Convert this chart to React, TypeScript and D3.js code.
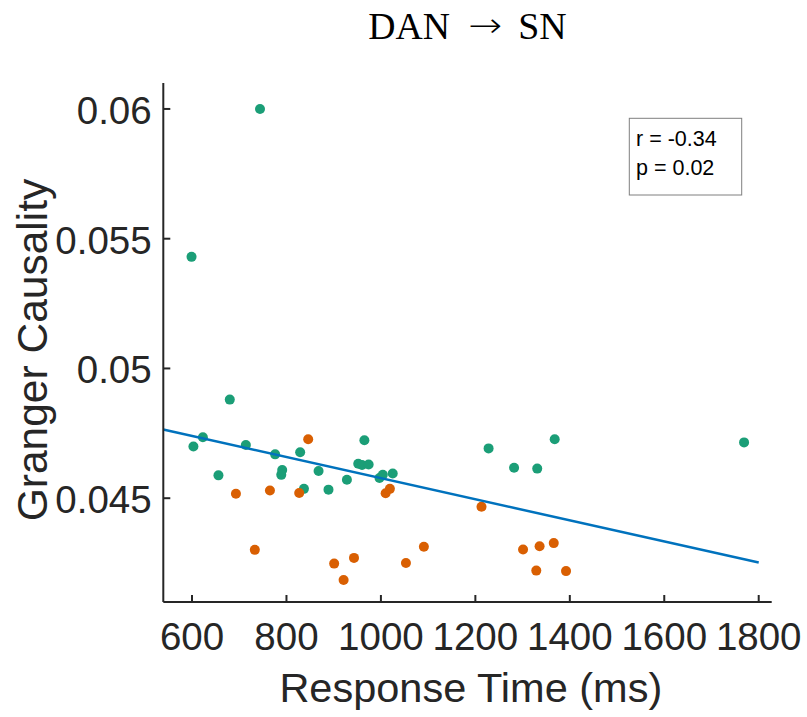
import React from "react";
import * as d3 from "d3";

// Response time (ms) and Granger causality, group 1 (green)
const greenRT = [744, 599, 680, 603, 623, 656, 714, 776, 791, 789, 829, 837, 868, 889, 928, 965, 952, 960, 974, 997, 1004, 1025, 1228, 1282, 1331, 1368, 1769];
const greenGC = [0.06, 0.0543, 0.0488, 0.04699, 0.04735, 0.04588, 0.04705, 0.04669, 0.04609, 0.0459, 0.04677, 0.04536, 0.04605, 0.04533, 0.04571, 0.04723, 0.04633, 0.04628, 0.0463, 0.04578, 0.0459, 0.04595, 0.04692, 0.04617, 0.04614, 0.04727, 0.04715];
// group 2 (orange)
const orangeRT = [693, 765, 827, 846, 733, 901, 943, 921, 1010, 1019, 1053, 1091, 1213, 1301, 1336, 1366, 1329, 1392];
const orangeGC = [0.04517, 0.0453, 0.0452, 0.04727, 0.04301, 0.04248, 0.0427, 0.04185, 0.04519, 0.04536, 0.0425, 0.04313, 0.04467, 0.04302, 0.04315, 0.04327, 0.04221, 0.04219];

// regression line endpoints
const fitRT = [539, 1800];
const fitGC = [0.047645, 0.042521];

const xTicks = [600, 800, 1000, 1200, 1400, 1600, 1800];
const yTicks = [0.045, 0.05, 0.055, 0.06];
const yTickLabels = ["0.045", "0.05", "0.055", "0.06"];

const statLines = ["r = -0.34", "p = 0.02"];
const titleParts = ["DAN", "\u2192", "SN"];
const xLabel = "Response Time (ms)";
const yLabel = "Granger Causality";

export default function App() {
  const W = 807, H = 717;
  const left = 163.3, right = 771.7, top = 83, bottom = 602;
  const x = d3.scaleLinear().domain([539.2, 1827.5]).range([left, right]);
  const y = d3.scaleLinear().domain([0.041, 0.061]).range([bottom, top]);
  const axisColor = "#262626";
  const font = "'Liberation Sans', Arial, Helvetica, sans-serif";
  const serif = "'Liberation Serif', 'DejaVu Serif', serif";
  const line = d3.line<number>().x((_, i) => x(fitRT[i])).y((v) => y(v));

  return (
    <svg width={W} height={H} style={{ position: "absolute", left: 0, top: 0, background: "#fff" }}>
      <rect x={0} y={0} width={W} height={H} fill="#fff" />
      {/* title */}
      <text x={368.3} y={39} fontFamily={serif} fontSize={37} textLength={81.7} lengthAdjust="spacingAndGlyphs" fill="#000">{titleParts[0]}</text>
      <text x={468.3} y={37} fontFamily="'DejaVu Sans ExtraLight', 'DejaVu Sans', sans-serif" fontWeight={200} fontSize={34} textLength={34} lengthAdjust="spacingAndGlyphs" fill="#000">{titleParts[1]}</text>
      <text x={518.3} y={39} fontFamily={serif} fontSize={37} textLength={48.4} lengthAdjust="spacingAndGlyphs" fill="#000">{titleParts[2]}</text>

      {/* points */}
      {greenRT.map((v, i) => (
        <circle key={"g" + i} cx={x(v)} cy={y(greenGC[i])} r={5} fill="#1b9e77" />
      ))}
      {orangeRT.map((v, i) => (
        <circle key={"o" + i} cx={x(v)} cy={y(orangeGC[i])} r={5} fill="#d95f02" />
      ))}

      {/* fit line */}
      <path d={line(fitGC) || ""} fill="none" stroke="#0072BD" strokeWidth={2.5} />

      {/* axes */}
      <line x1={left} x2={left} y1={top} y2={bottom} stroke={axisColor} strokeWidth={2} />
      <line x1={left} x2={right} y1={bottom} y2={bottom} stroke={axisColor} strokeWidth={2} />
      {yTicks.map((t, i) => (
        <g key={"yt" + i}>
          <line x1={left} x2={left + 7} y1={y(t)} y2={y(t)} stroke={axisColor} strokeWidth={2} />
          <text x={151.7} y={y(t) + 15} textAnchor="end" fontFamily={font} fontSize={38.5} fill={axisColor}>{yTickLabels[i]}</text>
        </g>
      ))}
      {xTicks.map((t, i) => (
        <g key={"xt" + i}>
          <line x1={x(t)} x2={x(t)} y1={bottom} y2={bottom - 7} stroke={axisColor} strokeWidth={2} />
          <text x={x(t)} y={650} textAnchor="middle" fontFamily={font} fontSize={38.5} fill={axisColor}>{String(t)}</text>
        </g>
      ))}

      {/* axis labels */}
      <text x={470.8} y={701.5} textAnchor="middle" fontFamily={font} fontSize={41.5} fill={axisColor}>{xLabel}</text>
      <text transform={`translate(46.5,350) rotate(-90)`} textAnchor="middle" fontFamily={font} fontSize={42.5} fill={axisColor}>{yLabel}</text>

      {/* stats box */}
      <rect x={629.3} y={118.3} width={112.4} height={76.7} fill="#fff" stroke="#7f7f7f" strokeWidth={1} />
      {statLines.map((s, i) => (
        <text key={"s" + i} x={636} y={145.5 + i * 29} fontFamily={font} fontSize={21.5} fill="#000">{s}</text>
      ))}
    </svg>
  );
}
